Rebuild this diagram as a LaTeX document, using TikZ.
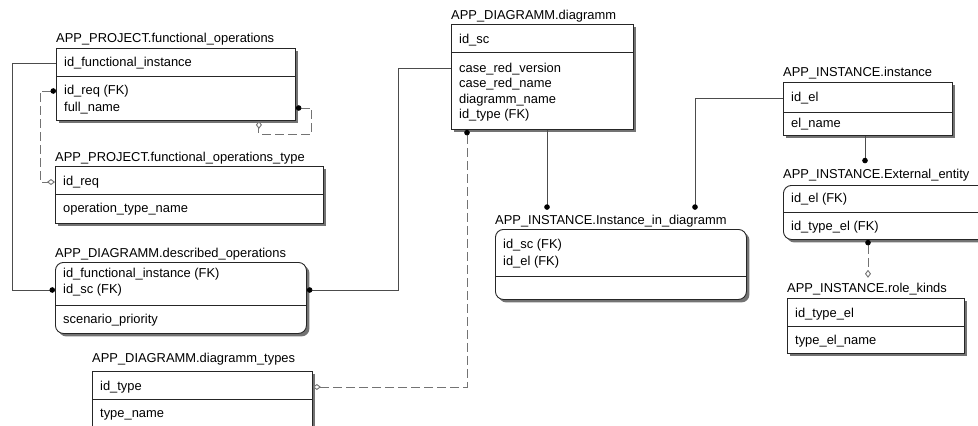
\documentclass[tikz,border=0pt]{standalone}
\usepackage{fontspec}
\setmainfont{Liberation Sans}
\usepackage{tikz}
\usetikzlibrary{arrows.meta}
\usetikzlibrary{shadows}
\tikzstyle{entity} = [draw=black!85, line width=0.9pt, fill=white, anchor=north west, inner sep=0pt, drop shadow={shadow xshift=3pt, shadow yshift=-3pt, fill=black!55, opacity=1}]
\tikzstyle{depentity} = [entity, rounded corners=8pt]
\tikzstyle{tabtitle} = [anchor=base west, inner xsep=0pt, inner ysep=5pt, text height=9.5pt, text depth=2.5pt]
\tikzstyle{attr} = [anchor=base west, inner sep=0pt, text height=9.5pt, text depth=2.5pt]
\tikzstyle{divider} = [draw=black!85, line width=0.9pt]
\tikzstyle{rel} = [draw=black!70, line width=0.9pt]
\tikzstyle{idrel} = [draw=black!55, line width=0.9pt, dash pattern=on 9pt off 4pt]
\tikzstyle{fkdot} = [-{Circle[length=5.5pt, black]}]
\tikzstyle{fkdiamond} = [{Circle[length=5.5pt, black]}-{Diamond[open, length=8pt, width=6pt, fill=white]}]

\begin{document}
\begin{tikzpicture}[x=1pt, y=-1pt]
	\tikzstyle{every node}=[font=\fontsize{12.9}{15}\selectfont]
	\clip (0,0) rectangle (978,426);
	
	% ------------------- APP_PROJECT.functional_operations ------------------- %
	\node[entity, minimum width=239pt, minimum height=72pt] (fo) at (56,48) {};
	\node[tabtitle] (fo-t) at (56,42.5) {APP\_PROJECT.functional\_operations};
	\node[attr] (fo-a1) at (64,66.5) {id\_functional\_instance};
	\node[attr] (fo-a2) at (64,94.5) {id\_req (FK)};
	\node[attr] (fo-a3) at (64,111.5) {full\_name};
	\draw[divider] (fo.west |- 0,76) -- (fo.east |- 0,76);
	
	% ------------------- APP_PROJECT.functional_operations_type ------------------- %
	\node[entity, minimum width=268pt, minimum height=57pt] (fot) at (55,166) {};
	\node[tabtitle] (fot-t) at (55,161.5) {APP\_PROJECT.functional\_operations\_type};
	\node[attr] (fot-a1) at (63,185.5) {id\_req};
	\node[attr] (fot-a2) at (63,212.5) {operation\_type\_name};
	\draw[divider] (fot.west |- 0,194) -- (fot.east |- 0,194);
	
	% ------------------- APP_DIAGRAMM.described_operations ------------------- %
	\node[depentity, minimum width=251pt, minimum height=71pt] (do) at (55,262) {};
	\node[tabtitle] (do-t) at (55,257.5) {APP\_DIAGRAMM.described\_operations};
	\node[attr] (do-a1) at (63,277.5) {id\_functional\_instance (FK)};
	\node[attr] (do-a2) at (63,293.5) {id\_sc (FK)};
	\node[attr] (do-a3) at (63,323.5) {scenario\_priority};
	\draw[divider] (do.west |- 0,305) -- (do.east |- 0,305);
	
	% ------------------- APP_DIAGRAMM.diagramm_types ------------------- %
	\node[entity, minimum width=220pt, minimum height=60pt] (dgt) at (92,371) {};
	\node[tabtitle] (dgt-t) at (92,362.5) {APP\_DIAGRAMM.diagramm\_types};
	\node[attr] (dgt-a1) at (100,390.5) {id\_type};
	\node[attr] (dgt-a2) at (100,417.5) {type\_name};
	\draw[divider] (dgt.west |- 0,399) -- (dgt.east |- 0,399);
	
	% ------------------- APP_DIAGRAMM.diagramm ------------------- %
	\node[entity, minimum width=182pt, minimum height=105pt] (dg) at (451,24) {};
	\node[tabtitle] (dg-t) at (451,19.5) {APP\_DIAGRAMM.diagramm};
	\node[attr] (dg-a1) at (459,43.5) {id\_sc};
	\node[attr] (dg-a2) at (459,72) {case\_red\_version};
	\node[attr] (dg-a3) at (459,87.5) {case\_red\_name};
	\node[attr] (dg-a4) at (459,103) {diagramm\_name};
	\node[attr] (dg-a5) at (459,118.5) {id\_type (FK)};
	\draw[divider] (dg.west |- 0,52) -- (dg.east |- 0,52);
	
	% ------------------- APP_INSTANCE.Instance_in_diagramm ------------------- %
	\node[depentity, minimum width=251pt, minimum height=70pt] (iid) at (495,229) {};
	\node[tabtitle] (iid-t) at (495,224.5) {APP\_INSTANCE.Instance\_in\_diagramm};
	\node[attr] (iid-a1) at (503,248.5) {id\_sc (FK)};
	\node[attr] (iid-a2) at (503,265.5) {id\_el (FK)};
	\draw[divider] (iid.west |- 0,276) -- (iid.east |- 0,276);
	
	% ------------------- APP_INSTANCE.instance ------------------- %
	\node[entity, minimum width=169pt, minimum height=53pt] (inst) at (783,82) {};
	\node[tabtitle] (inst-t) at (783,76.5) {APP\_INSTANCE.instance};
	\node[attr] (inst-a1) at (791,101.5) {id\_el};
	\node[attr] (inst-a2) at (791,127.5) {el\_name};
	\draw[divider] (inst.west |- 0,112) -- (inst.east |- 0,112);
	
	% ------------------- APP_INSTANCE.External_entity ------------------- %
	\node[depentity, minimum width=230pt, minimum height=54pt] (ee) at (783,185) {};
	\node[tabtitle] (ee-t) at (783,178) {APP\_INSTANCE.External\_entity};
	\node[attr] (ee-a1) at (791,202.5) {id\_el (FK)};
	\node[attr] (ee-a2) at (791,230.5) {id\_type\_el (FK)};
	\draw[divider] (ee.west |- 0,212) -- (ee.east |- 0,212);
	
	% ------------------- APP_INSTANCE.role_kinds ------------------- %
	\node[entity, minimum width=177pt, minimum height=55pt] (rk) at (787,298) {};
	\node[tabtitle] (rk-t) at (787,292.5) {APP\_INSTANCE.role\_kinds};
	\node[attr] (rk-a1) at (795,317.5) {id\_type\_el};
	\node[attr] (rk-a2) at (795,344.5) {type\_el\_name};
	\draw[divider] (rk.west |- 0,326) -- (rk.east |- 0,326);
	
	% ------------------- Relationships ------------------- %
	\coordinate (dg-out) at ([xshift=96pt]dg.south west);
	\coordinate (dg-fk) at ([xshift=16pt]dg.south west);
	\coordinate (iid-in) at ([xshift=200pt]iid.north west);
	\coordinate (inst-out) at ([xshift=82pt]inst.south west);
	\coordinate (ee-out) at ([xshift=85pt]ee.south west);
	
	\draw[rel, fkdot] (fo.west |- fo-a1) -- ++(-44,0) |- (do.west |- do-a2);
	\draw[idrel, fkdiamond] (fo.west |- fo-a2) -- ++(-16,0) |- (fot.west |- fot-a1);
	\draw[idrel, fkdiamond] (fo.east |- fo-a3) -- ++(16,0) -- ++(0,26) -| ([xshift=-37pt]fo.south east);
	\draw[rel, fkdot] (dg.west |- dg-a2) -- ++(-53,0) |- (do.east |- do-a2);
	\draw[idrel, fkdiamond] (dg-fk) |- (dgt.east |- dgt-a1);
	\draw[rel, fkdot] (dg-out) -- (dg-out |- iid-t.north);
	\draw[rel, fkdot] (inst.west |- inst-a1) -| (iid-in |- iid-t.north);
	\draw[rel, fkdot] (inst-out) -- (inst-out |- ee-t.north);
	\draw[idrel, fkdiamond] (ee-out) -- (ee-out |- rk-t.north);
	
\end{tikzpicture}
\end{document}
